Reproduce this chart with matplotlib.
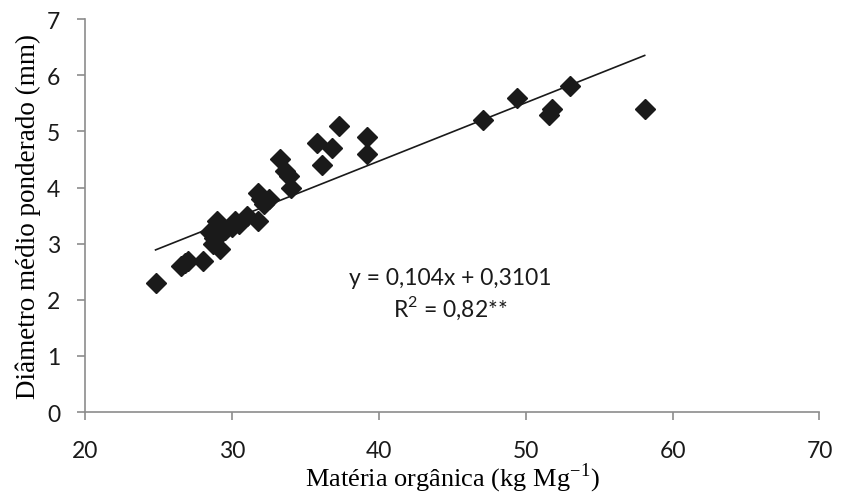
import matplotlib.pyplot as plt

# dados
materia_org = [24.8, 26.5, 26.8, 27.0, 28.0, 28.5, 28.7, 28.8, 29.0, 29.0,
               29.2, 29.3, 29.5, 30.0, 30.2, 30.5, 31.0, 31.8, 31.8, 32.0,
               32.2, 32.5, 33.3, 33.6, 33.9, 34.0, 35.8, 36.1, 36.8, 37.3,
               39.2, 39.2, 47.1, 49.4, 51.6, 51.8, 53.0, 58.1]
dmp = [2.3, 2.6, 2.65, 2.7, 2.7, 3.2, 3.0, 3.1, 3.4, 3.3,
       2.9, 3.2, 3.25, 3.3, 3.4, 3.35, 3.5, 3.4, 3.9, 3.8,
       3.7, 3.8, 4.5, 4.3, 4.2, 4.0, 4.8, 4.4, 4.7, 5.1,
       4.9, 4.6, 5.2, 5.6, 5.3, 5.4, 5.8, 5.4]

a, b = 0.104, 0.3101
xs = [min(materia_org), max(materia_org)]
ys = [a * x + b for x in xs]

plt.rcParams['mathtext.fontset'] = 'custom'
plt.rcParams['mathtext.rm'] = 'Liberation Serif'

fig = plt.figure(figsize=(8.53, 5.02), dpi=100)
ax = fig.add_axes([0.0997, 0.177, 0.861, 0.783])

ax.plot(materia_org, dmp, 'D', color='#1a1a1a', markersize=10.5, zorder=3)
ax.plot(xs, ys, color='#1a1a1a', linewidth=1.2, zorder=2)

ax.set_xlim(20, 70)
ax.set_ylim(0, 7)
ax.set_xticks(range(20, 71, 10))
ax.set_yticks(range(0, 8))

for s in ['top', 'right']:
    ax.spines[s].set_visible(False)
for s in ['left', 'bottom']:
    ax.spines[s].set_color('#8c8c8c')
    ax.spines[s].set_linewidth(1.2)
ax.tick_params(direction='out', length=6, width=1.2, color='#8c8c8c',
               labelsize=16.5, labelcolor='#1a1a1a')
ax.tick_params(axis='x', pad=14)
ax.tick_params(axis='y', pad=12)
for lab in ax.get_xticklabels() + ax.get_yticklabels():
    lab.set_family('Lato')

ax.set_xlabel('Matéria orgânica (kg Mg$^{\\mathregular{-1}}$)', family='Liberation Serif',
              fontsize=19, labelpad=0)
ax.set_ylabel('Diâmetro médio ponderado (mm)', family='Liberation Serif',
              fontsize=19.5, labelpad=4)

ax.text(0.497, 0.3015, 'y = 0,104x + 0,3101\nR$^{\\mathregular{2}}$ = 0,82**',
        transform=ax.transAxes, ha='center', va='center', fontsize=16.5,
        family='Lato', linespacing=1.25, color='#1a1a1a')

fig.savefig('out.png', dpi=100)
